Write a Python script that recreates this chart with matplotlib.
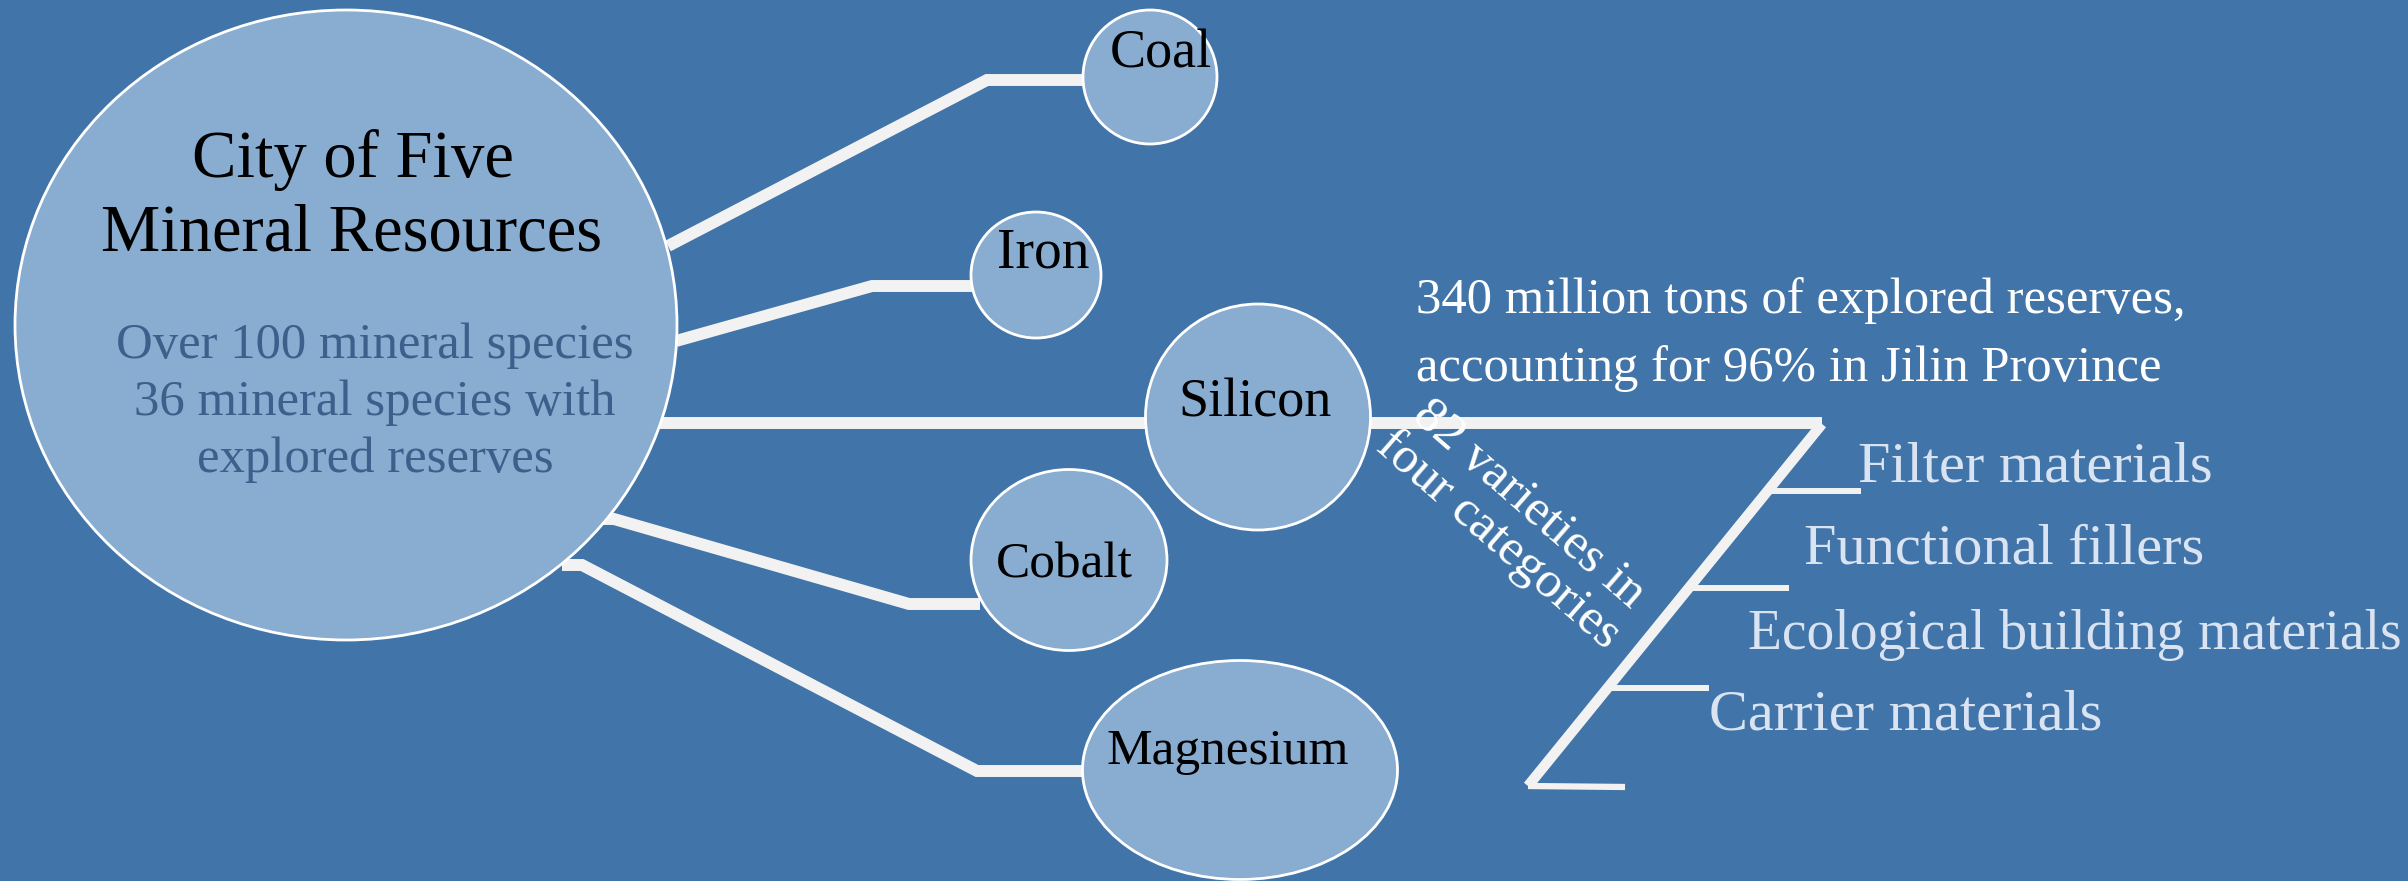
import matplotlib.pyplot as plt
from matplotlib.patches import Ellipse

# text content
title_lines = ['City of Five', 'Mineral Resources']
info_lines = ['Over 100 mineral species', '36 mineral species with', 'explored reserves']
minerals = ['Coal', 'Iron', 'Silicon', 'Cobalt', 'Magnesium']
silicon_note = ['340 million tons of explored reserves,', 'accounting for 96% in Jilin Province']
silicon_branch = '82 varieties in\nfour categories'
categories = ['Filter materials', 'Functional fillers', 'Ecological building materials', 'Carrier materials']

# layout (pixel coordinates of the 2408 x 881 canvas)
hub_xy = (346, 325)
hub_wh = (662, 630)
node_x = [1150, 1036, 1258, 1069, 1240]
node_y = [77, 275, 417, 560, 770]
node_w = [134, 130, 225, 196, 315]
node_h = [134, 126, 226, 181, 219]
node_label_x = [1161, 1043, 1255, 1064, 1228]
node_label_y = [54, 253, 403, 565, 752]
node_label_size = [39, 40, 39, 37, 37]

links = [
    [(668, 246), (987, 80), (1090, 80)],
    [(676, 341), (872, 286), (975, 286)],
    [(660, 423), (1822, 423)],
    [(603, 519), (614, 519), (909, 604), (980, 604)],
    [(562, 565), (582, 565), (977, 771), (1090, 771)],
]
spine = [(1822, 424), (1528, 786)]
spine_foot = [(1528, 786), (1625, 787)]
tick_y = [491, 588, 688]
tick_x0 = [1769, 1691, 1610]
tick_x1 = [1861, 1789, 1709]
cat_x = [1858, 1804, 1748, 1709]
cat_y = [467, 550, 635, 716]
cat_size = [42, 42, 40, 42]

bg = '#4174a8'
fill = '#89acd1'
line_c = '#f2f2f2'
serif = ['Liberation Serif', 'DejaVu Serif']

fig = plt.figure(figsize=(24.08, 8.81), dpi=100)
fig.patch.set_facecolor(bg)
ax = fig.add_axes([0, 0, 1, 1])
ax.set_facecolor(bg)
ax.set_xlim(0, 2408)
ax.set_ylim(881, 0)
ax.axis('off')

for pts in links:
    xs, ys = zip(*pts)
    ax.plot(xs, ys, color=line_c, lw=8.6, solid_joinstyle='miter', solid_capstyle='butt', zorder=1)

xs, ys = zip(*spine)
ax.plot(xs, ys, color=line_c, lw=7.5, solid_capstyle='butt', zorder=1)
xs, ys = zip(*spine_foot)
ax.plot(xs, ys, color=line_c, lw=4.5, solid_capstyle='butt', zorder=1)
for i in range(len(tick_y)):
    ax.plot([tick_x0[i], tick_x1[i]], [tick_y[i], tick_y[i]], color=line_c, lw=4.3,
            solid_capstyle='butt', zorder=1)

ax.add_patch(Ellipse(hub_xy, hub_wh[0], hub_wh[1], facecolor=fill, edgecolor='white', lw=2, zorder=2))
for i, name in enumerate(minerals):
    ax.add_patch(Ellipse((node_x[i], node_y[i]), node_w[i], node_h[i],
                         facecolor=fill, edgecolor='white', lw=2, zorder=2))
    ax.text(node_label_x[i], node_label_y[i], name, fontsize=node_label_size[i], family=serif,
            color='black', ha='center', va='center', zorder=3)

ax.text(353, 160, title_lines[0], fontsize=48, family=serif, color='black', ha='center', va='center', zorder=3)
ax.text(352, 234, title_lines[1], fontsize=48, family=serif, color='black', ha='center', va='center', zorder=3)
for i, line in enumerate(info_lines):
    ax.text(375, 346 + 57 * i, line, fontsize=36.5, family=serif, color='#3c5f8c',
            ha='center', va='center', zorder=3)

for i, line in enumerate(silicon_note):
    ax.text(1416, 301 + 68 * i, line, fontsize=36.5, family=serif, color='white',
            ha='left', va='center', zorder=3)

ax.text(1513, 522, silicon_branch, fontsize=37, family=serif, color='white', ha='center', va='center',
        rotation=-41, rotation_mode='anchor', linespacing=1.0, zorder=3)

for i, cat in enumerate(categories):
    ax.text(cat_x[i], cat_y[i], cat, fontsize=cat_size[i], family=serif, color='#d9e3f1',
            ha='left', va='center', zorder=3)

fig.savefig('out.png', dpi=100, facecolor=bg)
